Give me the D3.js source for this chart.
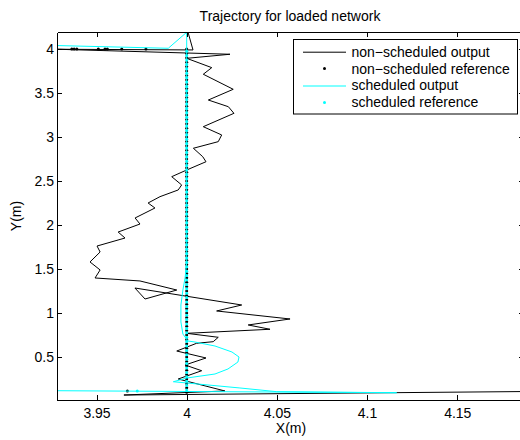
<!DOCTYPE html>
<meta charset="utf-8">
<style>
body { margin: 0; background: #fff; }
svg { display: block; font-family: "Liberation Sans", Arial, sans-serif; }
.axis path, .axis line { stroke: #000; shape-rendering: crispEdges; }
.axis text { font-size: 14px; fill: #000; }
</style>
<svg width="520" height="440"></svg>
<script src="https://d3js.org/d3.v7.min.js"></script>
<script>
// tick values
var xTicks = [3.95, 4, 4.05, 4.1, 4.15];
var yTicks = [0.5, 1, 1.5, 2, 2.5, 3, 3.5, 4];

// non-scheduled output (black line)
var nsOutX = [4.190, 3.9652, 4.0212, 3.9953, 4.0083, 3.9991, 4.0107, 3.9945, 4.0055, 4.0147, 4.0175, 4.0000, 4.0462, 4.0341, 4.0573, 4.0166, 4.0305, 3.9713, 3.9769, 3.9945, 3.9741, 3.9492, 3.9520, 3.9464, 3.9520, 3.9503, 3.9658, 3.9620, 3.9741, 3.9714, 3.9824, 3.9786, 3.9852, 3.9953, 3.9972, 3.9917, 4.0000, 4.0107, 4.0089, 4.0037, 4.0175, 4.0194, 4.0092, 4.0262, 4.0231, 4.0120, 4.0258, 4.0092, 4.0139, 4.0000, 4.0240, 3.9281, 4.0035, 4.0007];
var nsOutY = [0.108, 0.068, 0.114, 0.250, 0.344, 0.409, 0.489, 0.568, 0.656, 0.674, 0.724, 0.769, 0.815, 0.864, 0.932, 1.023, 1.091, 1.284, 1.159, 1.261, 1.364, 1.398, 1.489, 1.580, 1.693, 1.761, 1.852, 1.920, 2.011, 2.080, 2.193, 2.250, 2.322, 2.398, 2.455, 2.549, 2.625, 2.719, 2.776, 2.872, 2.947, 3.023, 3.117, 3.269, 3.344, 3.420, 3.542, 3.713, 3.788, 3.894, 3.940, 3.997, 3.989, 4.193];

// scheduled output (cyan line)
var sOutX = [3.9281, 4.1164, 4.0499, 4.0295, 3.9926, 4.0000, 4.0157, 4.0229, 4.0284, 4.0290, 4.0251, 4.0157, 4.0046, 4.0007, 3.9979, 3.9968, 3.9968, 3.9979, 3.9991, 4.0000, 4.0000, 4.0000, 3.9898, 3.9281];
var sOutY = [0.117, 0.094, 0.106, 0.148, 0.219, 0.261, 0.307, 0.364, 0.443, 0.500, 0.557, 0.625, 0.670, 0.682, 0.761, 0.898, 1.091, 1.261, 1.398, 1.580, 3.875, 4.190, 4.008, 4.039];

// reference points along x = 4
var refX = 4;
var nsRefColumnY = [0.10,0.15,0.20,0.25,0.30,0.35,0.40,0.45,0.50,0.55,0.60,0.65,0.70,0.75,0.80,0.85,0.90,0.95,1.00,1.05,1.10,1.15,1.20,1.25,1.30,1.35,1.40,1.45,1.50,1.55,1.60,1.65,1.70,1.75,1.80,1.85,1.90,1.95,2.00,2.05,2.10,2.15,2.20,2.25,2.30,2.35,2.40,2.45,2.50,2.55,2.60,2.65,2.70,2.75,2.80,2.85,2.90,2.95,3.00,3.05,3.10,3.15,3.20,3.25,3.30,3.35,3.40,3.45,3.50,3.55,3.60,3.65,3.70,3.75,3.80,3.85,3.90,3.95,4.00];
var sRefColumnY = [0.125,0.175,0.225,0.275,0.325,0.375,0.425,0.475,0.525,0.575,0.625,0.675,0.725,0.775,0.825,0.875,0.925,0.975,1.025,1.075,1.125,1.175,1.225,1.275,1.325,1.375,1.425,1.475,1.525,1.575,1.625,1.675,1.725,1.775,1.825,1.875,1.925,1.975,2.025,2.075,2.125,2.175,2.225,2.275,2.325,2.375,2.425,2.475,2.525,2.575,2.625,2.675,2.725,2.775,2.825,2.875,2.925,2.975,3.025,3.075,3.125,3.175,3.225,3.275,3.325,3.375,3.425,3.475,3.525,3.575,3.625,3.675,3.725,3.775,3.825,3.875,3.925,3.975];
var nsRefExtraX = [3.9363, 3.9376, 3.9391, 3.9510, 3.9547, 3.9560, 3.9640, 3.9774, 3.9671];
var nsRefExtraY = [4, 4, 4, 4, 4, 4, 4, 4, 0.114];
var sRefExtraX = [3.9726];
var sRefExtraY = [0.114];

var legendLabels = ["non\u2212scheduled output", "non\u2212scheduled reference", "scheduled output", "scheduled reference"];

var svg = d3.select("svg");
var mLeft = 57, mRight = 524, mTop = 32, mBottom = 400;

var x = d3.scaleLinear().domain([3.9281, 4.187]).range([mLeft, mRight]);
var y = d3.scaleLinear().domain([0.0114, 4.193]).range([mBottom, mTop]);

function pts(xs, ys) { return xs.map(function(v, i) { return [v, ys[i]]; }); }

svg.append("clipPath").attr("id", "clip")
  .append("rect").attr("x", mLeft).attr("y", mTop).attr("width", mRight - mLeft).attr("height", mBottom - mTop);

var plot = svg.append("g").attr("clip-path", "url(#clip)");
var line = d3.line().x(function(d) { return x(d[0]); }).y(function(d) { return y(d[1]); });

plot.append("path")
  .datum(pts(nsOutX, nsOutY))
  .attr("d", line).attr("fill", "none").attr("stroke", "#000").attr("stroke-width", 1);

var nsRef = pts(nsRefColumnY.map(function() { return refX; }), nsRefColumnY).concat(pts(nsRefExtraX, nsRefExtraY));
plot.selectAll(".nsref").data(nsRef).enter().append("circle")
  .attr("cx", function(d) { return x(d[0]); }).attr("cy", function(d) { return y(d[1]); })
  .attr("r", 1.5).attr("fill", "#000");

plot.append("path")
  .datum(pts(sOutX, sOutY))
  .attr("d", line).attr("fill", "none").attr("stroke", "#00ffff").attr("stroke-width", 1);

var sRef = pts(sRefColumnY.map(function() { return refX; }), sRefColumnY).concat(pts(sRefExtraX, sRefExtraY));
plot.selectAll(".sref").data(sRef).enter().append("circle")
  .attr("cx", function(d) { return x(d[0]); }).attr("cy", function(d) { return y(d[1]); })
  .attr("r", 1.5).attr("fill", "#00ffff");

// axes (box with inward ticks)
var fmt = d3.format("~g");
svg.append("g").attr("class", "axis").attr("transform", "translate(0," + mBottom + ")")
  .call(d3.axisBottom(x).tickValues(xTicks).tickFormat(fmt).tickSizeInner(-5).tickSizeOuter(0).tickPadding(8));
svg.append("g").attr("class", "axis").attr("transform", "translate(0," + mTop + ")")
  .call(d3.axisTop(x).tickValues(xTicks).tickFormat("").tickSizeInner(-5).tickSizeOuter(0));
svg.append("g").attr("class", "axis").attr("transform", "translate(" + mLeft + ",0)")
  .call(d3.axisLeft(y).tickValues(yTicks).tickFormat(fmt).tickSizeInner(-5).tickSizeOuter(0).tickPadding(3));
svg.append("g").attr("class", "axis").attr("transform", "translate(" + mRight + ",0)")
  .call(d3.axisRight(y).tickValues(yTicks).tickFormat("").tickSizeInner(-5).tickSizeOuter(0));

// titles
svg.append("text").attr("x", 290).attr("y", 21).attr("text-anchor", "middle")
  .attr("font-size", "14px").text("Trajectory for loaded network");
svg.append("text").attr("x", 291).attr("y", 433).attr("text-anchor", "middle")
  .attr("font-size", "14px").text("X(m)");
svg.append("text").attr("transform", "translate(21,216) rotate(-90)").attr("text-anchor", "middle")
  .attr("font-size", "14px").text("Y(m)");

// legend
var lg = svg.append("g");
lg.append("rect").attr("x", 293.5).attr("y", 39.5).attr("width", 224).attr("height", 74.5)
  .attr("fill", "#fff").attr("stroke", "#000").attr("stroke-width", 1);
var rows = lg.selectAll(".row").data(legendLabels).enter().append("g")
  .attr("transform", function(d, i) { return "translate(0," + (51.7 + i * 16.9) + ")"; });
rows.each(function(d, i) {
  var r = d3.select(this);
  var col = i < 2 ? "#000" : "#00ffff";
  if (i % 2 === 0) {
    r.append("line").attr("x1", 303).attr("x2", 346).attr("y1", 0.5).attr("y2", 0.5)
      .attr("stroke", col).attr("stroke-width", 1);
  } else {
    r.append("circle").attr("cx", 324.5).attr("cy", 0).attr("r", 1.5).attr("fill", col);
  }
  r.append("text").attr("x", 351.5).attr("dy", "0.35em").attr("font-size", "14px").text(d);
});
</script>
